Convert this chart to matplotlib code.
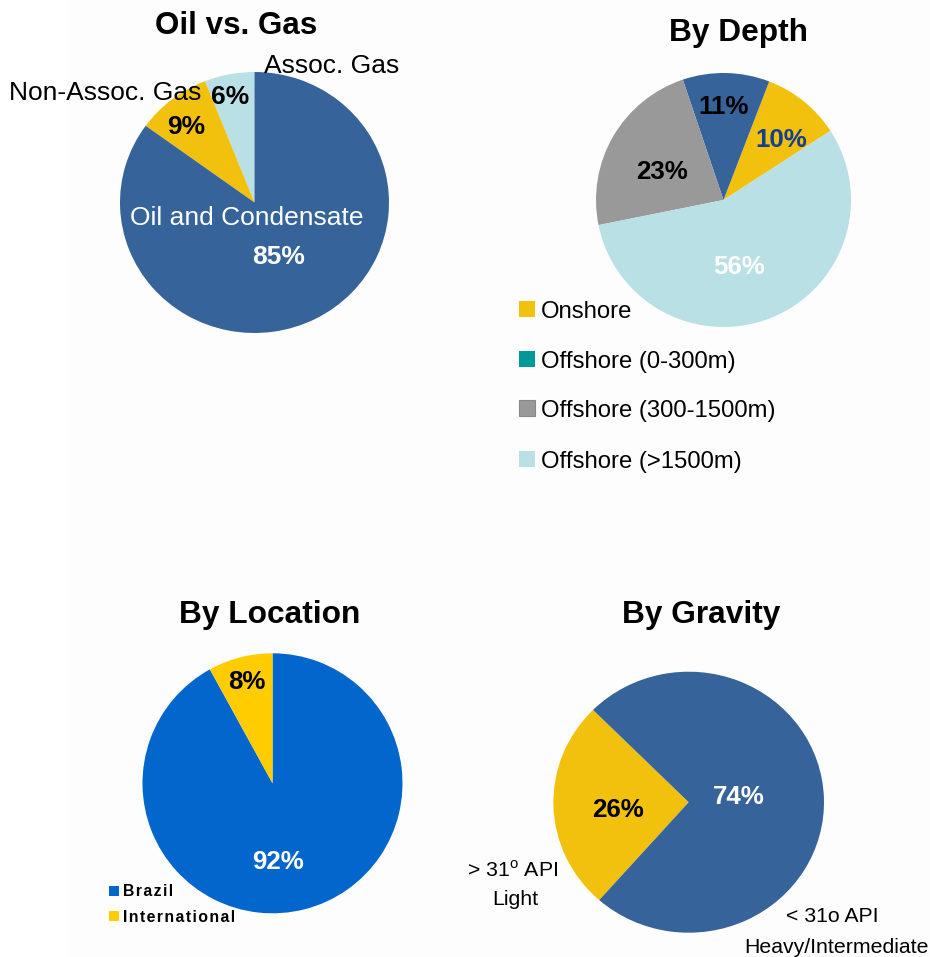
import matplotlib
matplotlib.use("Agg")
import matplotlib.pyplot as plt
from matplotlib.patches import Rectangle

plt.rcParams['font.family'] = ['Liberation Sans', 'DejaVu Sans']
plt.rcParams['mathtext.fontset'] = 'custom'
plt.rcParams['mathtext.rm'] = 'Liberation Sans'

W, H = 930, 957

# ---------------- data ----------------
gas_labels = ["Assoc. Gas", "Non-Assoc. Gas", "Oil and Condensate"]
gas_values = [6, 9, 85]

depth_labels = ["Onshore", "Offshore (0-300m)", "Offshore (300-1500m)", "Offshore (>1500m)"]
depth_values = [10, 11, 23, 56]

loc_labels = ["Brazil", "International"]
loc_values = [92, 8]

grav_labels = ["> 31$^{\\mathrm{o}}$ API\nLight", "< 31o API\nHeavy/Intermediate"]
grav_values = [26, 74]

# ---------------- colours ----------------
BLUE = "#36649A"
YELLOW = "#F2C10D"
LBLUE = "#B9E0E5"
GRAY = "#999999"
TEAL = "#009999"
LOC_BLUE = "#0366CC"
LOC_YELLOW = "#FFCC00"

fig = plt.figure(figsize=(W / 100, H / 100), dpi=100)
fig.patch.set_facecolor("white")

# very faint panel background
fig.add_artist(Rectangle((67 / W, 0), (W - 67) / W, 1, transform=fig.transFigure,
                         facecolor="#FDFDFD", edgecolor="none", zorder=0))


def pie_axes(cx, cy, rx, ry):
    ax = fig.add_axes([(cx - rx) / W, 1 - (cy + ry) / H, 2 * rx / W, 2 * ry / H])
    return ax


def finish(ax):
    ax.set_aspect("auto")
    ax.set_xlim(-1, 1)
    ax.set_ylim(-1, 1)
    ax.axis("off")


def txt(x, y, s, size, weight="normal", color="black", ha="center", **kw):
    # (x, y) = visual centre of capitals in pixel coords (top-left origin)
    px = size * 100 / 72
    yb = y + 0.716 * px / 2
    fig.text(x / W, 1 - yb / H, s, fontsize=size, fontweight=weight, color=color,
             ha=ha, va="baseline", **kw)


# ---------------- Pie 1: Oil vs Gas ----------------
ax1 = pie_axes(254.5, 202.5, 134.5, 130.5)
ax1.pie(gas_values, colors=[LBLUE, YELLOW, BLUE], startangle=90, counterclock=True,
        radius=1, wedgeprops=dict(linewidth=0))
finish(ax1)
txt(236, 23, "Oil vs. Gas", 22.6, "bold")
txt(332, 64, gas_labels[0], 19)
txt(105, 91, gas_labels[1], 19)
txt(230, 95, f"{gas_values[0]}%", 19, "bold")
txt(186, 125, f"{gas_values[1]}%", 19, "bold")
txt(247, 216, gas_labels[2], 19, color="white")
txt(279, 255, f"{gas_values[2]}%", 19, "bold", color="white")

# ---------------- Pie 2: By Depth ----------------
ax2 = pie_axes(723.5, 200, 127.5, 127)
ax2.pie(depth_values, colors=[YELLOW, BLUE, GRAY, LBLUE], startangle=33, counterclock=True,
        radius=1, wedgeprops=dict(linewidth=0))
finish(ax2)
txt(738, 30, "By Depth", 22.8, "bold")
txt(724, 105, f"{depth_values[1]}%", 18.6, "bold")
txt(781, 138, f"{depth_values[0]}%", 18.6, "bold", color="#123F95")
txt(662, 170, f"{depth_values[2]}%", 18.6, "bold")
txt(739, 265, f"{depth_values[3]}%", 18.6, "bold", color="white")

leg_colors = [YELLOW, TEAL, GRAY, LBLUE]
leg_edges = ["none", "none", "#888888", "none"]
leg_y = [309, 359, 408, 459]
for lab, c, e, y in zip(depth_labels, leg_colors, leg_edges, leg_y):
    fig.add_artist(Rectangle((519 / W, 1 - (y + 8) / H), 16 / W, 16 / H,
                             transform=fig.transFigure, facecolor=c,
                             edgecolor=e, linewidth=0.8))
    txt(541, y, lab, 17.2, ha="left")

# ---------------- Pie 3: By Location ----------------
ax3 = pie_axes(272.5, 783.3, 130, 130)
ax3.pie(loc_values, colors=[LOC_BLUE, LOC_YELLOW], startangle=90 + 360 * loc_values[1] / 100,
        counterclock=True, radius=1, wedgeprops=dict(linewidth=0))
finish(ax3)
txt(270, 612, "By Location", 22.8, "bold")
txt(247, 680, f"{loc_values[1]}%", 18.6, "bold")
txt(278, 860, f"{loc_values[0]}%", 18.6, "bold", color="white")
for lab, c, y in zip(loc_labels, [LOC_BLUE, LOC_YELLOW], [890.7, 916]):
    fig.add_artist(Rectangle((109 / W, 1 - (y + 5) / H), 10 / W, 10 / H,
                             transform=fig.transFigure, facecolor=c, edgecolor="none"))
    spaced = "\u200a".join(lab)
    txt(123, y, spaced, 11.4, "bold", ha="left")

# ---------------- Pie 4: By Gravity ----------------
ax4 = pie_axes(688.7, 802.2, 135.3, 130.5)
ax4.pie(grav_values, colors=[YELLOW, BLUE], startangle=135, counterclock=True,
        radius=1, wedgeprops=dict(linewidth=0))
finish(ax4)
txt(701, 612, "By Gravity", 22.8, "bold")
txt(618, 808, f"{grav_values[0]}%", 18.6, "bold")
txt(739, 795, f"{grav_values[1]}%", 18.6, "bold", color="white")
g1 = grav_labels[0].split("\n")
txt(513, 869, g1[0], 15.3)
txt(515, 897, g1[1], 15.3)
g2 = grav_labels[1].split("\n")
txt(832, 914, g2[0], 15.3)
txt(836, 945, g2[1], 15.3)

fig.savefig("out.png", dpi=100, facecolor="white")
